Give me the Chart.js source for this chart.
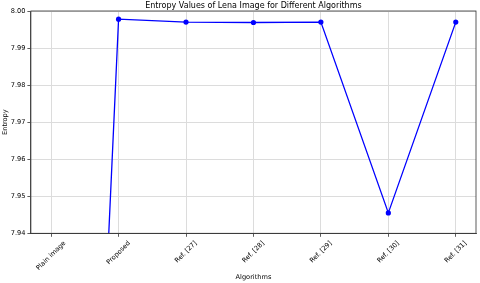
<!DOCTYPE html>
<html><head><meta charset="utf-8">
<script src="https://cdn.jsdelivr.net/npm/chart.js@4"></script>
<style>html,body{margin:0;padding:0;background:#fff}canvas{display:block}</style>
</head><body>
<div style="width:480px;height:283px"><canvas id="c" width="480" height="283"></canvas></div>
<script>
const categories = ['Plain image', 'Proposed', 'Ref. [27]', 'Ref. [28]', 'Ref. [29]', 'Ref. [30]', 'Ref. [31]'];
const entropyValues = [7.60, 7.9978, 7.9970, 7.9969, 7.9970, 7.9455, 7.9970];
const yTicks = [7.94, 7.95, 7.96, 7.97, 7.98, 7.99, 8.00];
const titleText = 'Entropy Values of Lena Image for Different Algorithms';
const xTitle = 'Algorithms';
const yTitle = 'Entropy';

const FONT = 'DejaVu Sans';
const TICK_SIZE = 6.6;
const TITLE_SIZE = 8.0;

const overlay = {
  id: 'overlay',
  afterDraw(chart) {
    const ctx = chart.ctx;
    const a = chart.chartArea;
    const xs = chart.scales.x;
    ctx.save();
    ctx.strokeStyle = '#333';
    ctx.lineWidth = 0.8;
    ctx.strokeRect(a.left, a.top, a.right - a.left, a.bottom - a.top);
    ctx.fillStyle = '#000';
    ctx.font = TITLE_SIZE + 'px "' + FONT + '"';
    ctx.textAlign = 'center';
    ctx.textBaseline = 'alphabetic';
    ctx.fillText(titleText, (a.left + a.right) / 2, 7.8);
    ctx.font = TICK_SIZE + 'px "' + FONT + '"';
    ctx.fillText(xTitle, (a.left + a.right) / 2, 279.3);
    ctx.save();
    ctx.translate(6.8, (a.top + a.bottom) / 2);
    ctx.rotate(-Math.PI / 2);
    ctx.fillText(yTitle, 0, 0);
    ctx.restore();
    ctx.textBaseline = 'middle';
    categories.forEach((lab, i) => {
      const x = xs.getPixelForValue(i);
      const w = ctx.measureText(lab).width;
      const h = TICK_SIZE;
      const bh = (w + h) * Math.SQRT1_2;
      const cy = a.bottom + 6.5 + bh / 2;
      ctx.save();
      ctx.translate(x, cy);
      ctx.rotate(-Math.PI / 4);
      ctx.fillText(lab, 0, 0);
      ctx.restore();
    });
    ctx.restore();
  }
};

new Chart(document.getElementById('c'), {
  type: 'line',
  data: {
    datasets: [{
      data: categories.map((c, i) => ({ x: i, y: entropyValues[i] })),
      borderColor: '#0000ff',
      backgroundColor: '#0000ff',
      borderWidth: 1.3,
      pointRadius: 2.6,
      pointBackgroundColor: '#0000ff',
      pointBorderWidth: 0,
      tension: 0,
      fill: false
    }]
  },
  options: {
    responsive: false,
    animation: false,
    devicePixelRatio: 1,
    layout: { padding: { left: 0, right: 1.3, top: 11, bottom: 0 } },
    plugins: { legend: { display: false }, title: { display: false }, tooltip: { enabled: false } },
    scales: {
      x: {
        type: 'linear',
        min: -0.3,
        max: 6.3,
        afterBuildTicks: s => { s.ticks = categories.map((c, i) => ({ value: i })); },
        afterFit: s => { s.height = 49.7; },
        ticks: { display: false },
        grid: { color: '#dcdcdc', lineWidth: 1, drawTicks: true, tickLength: 3.5, tickColor: '#333', tickWidth: 0.8 },
        border: { color: '#333', width: 0.8 }
      },
      y: {
        type: 'linear',
        min: 7.94,
        max: 8.00,
        afterBuildTicks: s => { s.ticks = yTicks.map(v => ({ value: v })); },
        afterFit: s => { s.width = 30.9; },
        ticks: {
          callback: v => Number(v).toFixed(2),
          font: { family: FONT, size: TICK_SIZE },
          color: '#000',
          padding: 2
        },
        grid: { color: '#dcdcdc', lineWidth: 1, drawTicks: true, tickLength: 3.5, tickColor: '#333', tickWidth: 0.8 },
        border: { color: '#333', width: 0.8 }
      }
    }
  },
  plugins: [overlay]
});
</script>
</body></html>
